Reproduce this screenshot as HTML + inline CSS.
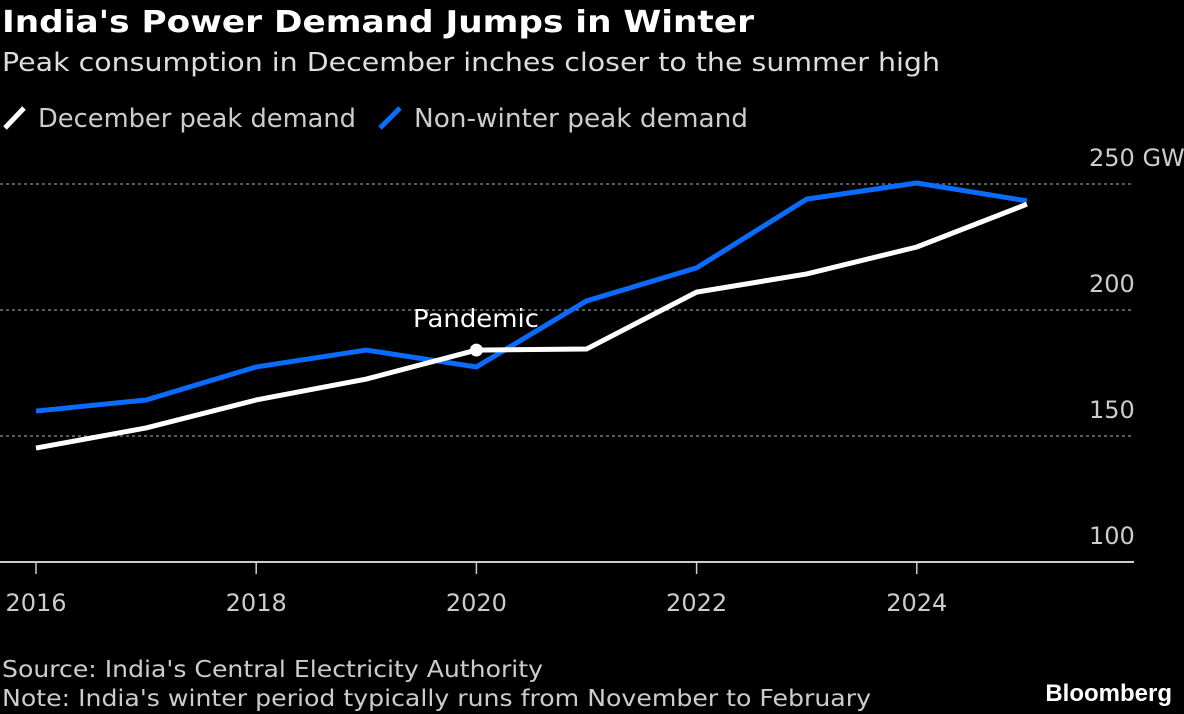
<!DOCTYPE html>
<html><head><meta charset="utf-8"><style>
html,body{margin:0;padding:0;background:#000;}
svg{display:block;font-family:"DejaVu Sans","Liberation Sans",sans-serif;}
</style></head><body>
<svg id="chart" width="1184" height="714" viewBox="0 0 1184 714">
<rect width="1184" height="714" fill="#000"/>
<text x="2" y="32" fill="#fff" font-size="30" font-weight="bold" textLength="752" lengthAdjust="spacingAndGlyphs">India's Power Demand Jumps in Winter</text>
<text x="2" y="71" fill="#ddd" font-size="26" textLength="938" lengthAdjust="spacingAndGlyphs">Peak consumption in December inches closer to the summer high</text>
<g>
<line x1="5" y1="128" x2="24" y2="108" stroke="#fff" stroke-width="5"/>
<text x="38" y="127" fill="#ccc" font-size="26" textLength="318" lengthAdjust="spacingAndGlyphs">December peak demand</text>
<line x1="380" y1="128" x2="400" y2="108" stroke="#0a6cff" stroke-width="5"/>
<text x="414" y="127" fill="#ccc" font-size="26" textLength="334" lengthAdjust="spacingAndGlyphs">Non-winter peak demand</text>
</g>
<g id="grid"></g><g id="xaxis"></g><g id="series"></g>
<text x="413" y="327" fill="#fff" font-size="25" textLength="126" lengthAdjust="spacingAndGlyphs">Pandemic</text>
<text x="2" y="677" fill="#ccc" font-size="23" textLength="541" lengthAdjust="spacingAndGlyphs">Source: India's Central Electricity Authority</text>
<text x="2" y="706" fill="#ccc" font-size="23" textLength="869" lengthAdjust="spacingAndGlyphs">Note: India's winter period typically runs from November to February</text>
<text x="1172" y="701" fill="#fff" font-size="24" font-weight="bold" text-anchor="end" font-family="Liberation Sans, sans-serif">Bloomberg</text>
</svg>
<script>
const years=[2016,2017,2018,2019,2020,2021,2022,2023,2024,2025];
const decemberPeak=[145.2,153.2,164.3,172.6,184.1,184.5,207.1,214.3,225,242];
const nonWinterPeak=[159.9,164.3,177.4,184.1,177.4,203.6,216.7,244,250.4,243.3];
const yTicks=[100,150,200,250];
const yTickLabels=["100","150","200","250 GW"];
const xTicks=[2016,2018,2020,2022,2024];
const pandemicYear=2020;
const NS="http://www.w3.org/2000/svg";
const X=y=>36+(y-2016)*110.1;
const Y=v=>562-(v-100)*2.52;
function mk(tag,attrs,parent){const e=document.createElementNS(NS,tag);for(const k in attrs)e.setAttribute(k,attrs[k]);parent.appendChild(e);return e;}
const grid=document.getElementById('grid'),xa=document.getElementById('xaxis'),ser=document.getElementById('series');
yTicks.forEach((t,i)=>{
  if(t>100){const l=mk('line',{x1:0,x2:1134,y1:Y(t),y2:Y(t),stroke:'#777','stroke-width':1.5,'stroke-dasharray':'3,3'},grid);
  
  }
  const tx=mk('text',{x:1089,y:Y(t)-18,fill:'#ccc','font-size':24},grid);tx.textContent=yTickLabels[i];
  
  
});
const base=mk('line',{x1:0,x2:1134,y1:562,y2:562,stroke:'#ccc','stroke-width':2},xa);


xTicks.forEach(t=>{
  const tk=mk('line',{x1:X(t),x2:X(t),y1:562,y2:574,stroke:'#ccc','stroke-width':1.5},xa);
  
  
  const tx=mk('text',{x:X(t),y:611,fill:'#ccc','font-size':24,'text-anchor':'middle'},xa);tx.textContent=t;
  
  
});
function line(vals,color,name){
  const p=mk('polyline',{points:vals.map((v,i)=>X(years[i])+','+Y(v)).join(' '),fill:'none',stroke:color,'stroke-width':5,'stroke-linejoin':'round'},ser);
  
  
}
line(nonWinterPeak,'#0a6cff','nonwinter-peak-line');
line(decemberPeak,'#fff','december-peak-line');
const pi=years.indexOf(pandemicYear);
const dot=mk('circle',{cx:X(pandemicYear),cy:Y(decemberPeak[pi]),r:6.5,fill:'#fff'},ser);


</script>
</body></html>
